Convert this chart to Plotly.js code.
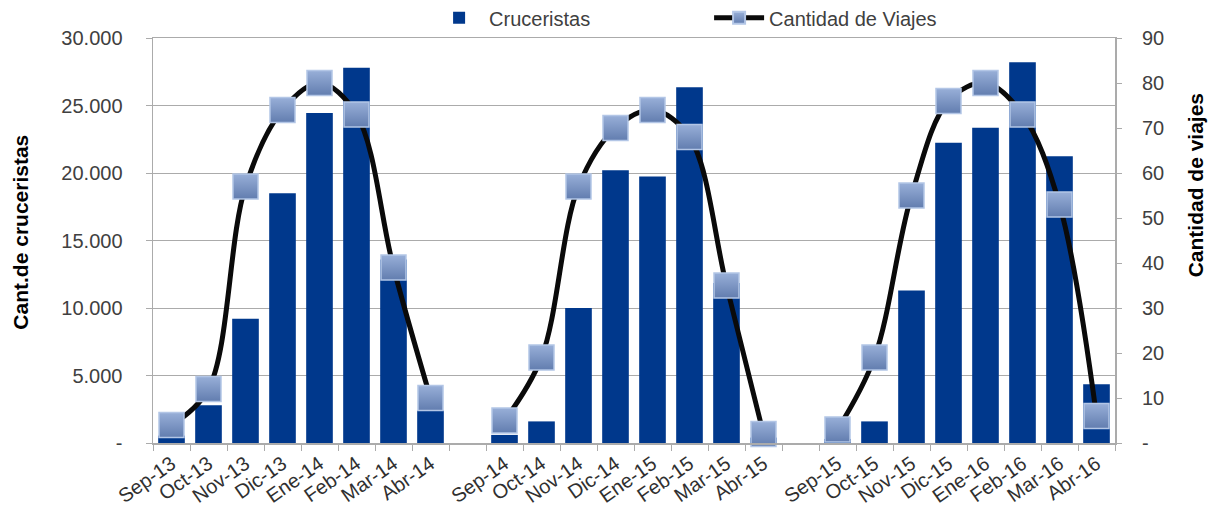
<!DOCTYPE html>
<html>
<head>
<meta charset="utf-8">
<script src="https://cdn.plot.ly/plotly-3.0.1.min.js"></script>
<style>
  html, body { margin: 0; padding: 0; background: #ffffff; }
  #chart { width: 1213px; height: 516px; }
</style>
</head>
<body>
<div id="chart"></div>
<script>
const categories = [
  'Sep-13','Oct-13','Nov-13','Dic-13','Ene-14','Feb-14','Mar-14','Abr-14',
  ' ',
  'Sep-14','Oct-14','Nov-14','Dic-14','Ene-15','Feb-15','Mar-15','Abr-15',
  '  ',
  'Sep-15','Oct-15','Nov-15','Dic-15','Ene-16','Feb-16','Mar-16','Abr-16'
];
const cruceristas = [
  550, 2800, 9200, 18500, 24450, 27800, 13600, 2400,
  null,
  600, 1600, 10000, 20200, 19750, 26350, 11850, 400,
  null,
  300, 1600, 11300, 22250, 23350, 28200, 21250, 4350
];
const viajes = [
  4, 12, 57, 74, 80, 73, 39, 10,
  null,
  5, 19, 57, 70, 74, 68, 35, 2,
  null,
  3, 19, 55, 76, 80, 73, 53, 6
];
const leftTickVals = [0, 5000, 10000, 15000, 20000, 25000, 30000];
const leftTickText = ['-', '5.000', '10.000', '15.000', '20.000', '25.000', '30.000'];
const rightTickVals = [0, 10, 20, 30, 40, 50, 60, 70, 80, 90];
const rightTickText = ['-', '10', '20', '30', '40', '50', '60', '70', '80', '90'];
const seriesNames = ['Cruceristas', 'Cantidad de Viajes'];
const axisTitles = ['Cant.de cruceristas', 'Cantidad de viajes'];

const FONT = 'Liberation Sans, Arial, sans-serif';
const TICKCOLOR = '#404040';
const GRID = '#ABABAB';

const traces = [
  {
    type: 'bar',
    name: seriesNames[0],
    x: categories,
    y: cruceristas,
    yaxis: 'y',
    marker: { color: '#00388C' },
    hoverinfo: 'x+y'
  },
  {
    type: 'scatter',
    mode: 'lines+markers',
    name: seriesNames[1],
    x: categories,
    y: viajes,
    yaxis: 'y2',
    connectgaps: false,
    cliponaxis: false,
    line: { color: '#0A0A0A', width: 5, shape: 'spline', smoothing: 1 },
    marker: {
      symbol: 'square',
      size: 25,
      color: '#98AFD8',
      gradient: { type: 'vertical', color: '#627DAF' },
      line: { color: '#B3C6E6', width: 1.5 }
    }
  }
];

const layout = {
  width: 1213,
  height: 516,
  margin: { l: 153, r: 98, t: 38, b: 73, autoexpand: false },
  paper_bgcolor: '#ffffff',
  plot_bgcolor: '#ffffff',
  font: { family: FONT, size: 20, color: TICKCOLOR },
  bargap: 0.28,
  showlegend: true,
  legend: {
    orientation: 'h',
    x: 0.287,
    xanchor: 'left',
    y: 1.05,
    yanchor: 'middle',
    itemsizing: 'constant',
    itemwidth: 50,
    entrywidth: 215,
    font: { family: FONT, size: 20, color: '#404040' },
    bgcolor: 'rgba(0,0,0,0)'
  },
  xaxis: {
    type: 'category',
    categoryorder: 'array',
    categoryarray: categories,
    range: [-0.5, categories.length - 0.5],
    autorange: false,
    tickangle: -35,
    tickson: 'boundaries',
    ticks: 'outside',
    ticklen: 6,
    tickcolor: GRID,
    showline: true,
    linecolor: GRID,
    linewidth: 1.5,
    mirror: true,
    showgrid: false,
    tickfont: { family: FONT, size: 20, color: '#303030' },
    fixedrange: true
  },
  yaxis: {
    range: [0, 30000],
    tickvals: leftTickVals,
    ticktext: leftTickText,
    ticks: 'outside',
    ticklen: 6,
    tickcolor: GRID,
    ticklabelstandoff: 19,
    showline: true,
    linecolor: GRID,
    linewidth: 1.5,
    mirror: true,
    showgrid: true,
    gridcolor: GRID,
    gridwidth: 1,
    zeroline: false,
    tickfont: { family: FONT, size: 20, color: TICKCOLOR },
    fixedrange: true
  },
  yaxis2: {
    overlaying: 'y',
    side: 'right',
    range: [0, 90],
    tickvals: rightTickVals,
    ticktext: rightTickText,
    ticks: 'outside',
    ticklen: 6,
    tickcolor: GRID,
    ticklabelstandoff: 16,
    showline: false,
    showgrid: false,
    zeroline: false,
    tickfont: { family: FONT, size: 20, color: TICKCOLOR },
    fixedrange: true
  },
  annotations: [
    {
      text: '<b>' + axisTitles[0] + '</b>',
      xref: 'paper', yref: 'paper',
      x: -0.138, y: 0.52,
      xanchor: 'center', yanchor: 'middle',
      textangle: -90,
      showarrow: false,
      font: { family: FONT, size: 21, color: '#000000' }
    },
    {
      text: '<b>' + axisTitles[1] + '</b>',
      xref: 'paper', yref: 'paper',
      x: 1.0835, y: 0.637,
      xanchor: 'center', yanchor: 'middle',
      textangle: -90,
      showarrow: false,
      font: { family: FONT, size: 21, color: '#000000' }
    }
  ]
};

Plotly.newPlot('chart', traces, layout, { displayModeBar: false, staticPlot: true });
</script>
</body>
</html>
